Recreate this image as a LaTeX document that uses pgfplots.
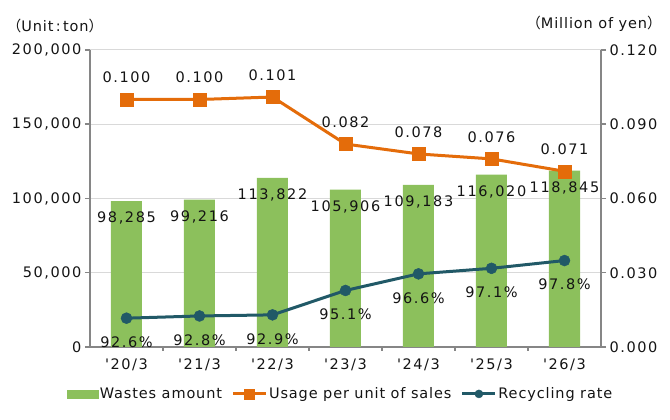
\documentclass[border=0pt]{standalone}
\usepackage{fontspec}
\setmainfont[LetterSpace=6]{DejaVu Sans}
\newfontfamily\numfont[LetterSpace=11]{DejaVu Sans}
\newfontfamily\cjk{Noto Sans CJK JP}
\usepackage{pgfplots}
\pgfplotsset{compat=1.18}

\definecolor{wastegreen}{HTML}{8CC05C}
\definecolor{usageorange}{HTML}{E46C0A}
\definecolor{recteal}{HTML}{215967}
\definecolor{axisgray}{HTML}{868686}
\definecolor{gridgray}{HTML}{D9D9D9}
\definecolor{txt}{HTML}{141414}

\pgfkeys{/pgf/number format/assume math mode=true}

\pgfplotsset{
  base/.style={
    scale only axis, width=511pt, height=297pt,
    at={(0,0)}, anchor=south west,
    xmin=-0.5, xmax=6.5, clip=false,
    tick label style={font=\numfont\fontsize{14.5}{16}\selectfont, text=txt},
    every node near coord/.append style={font=\numfont\fontsize{14.5}{16}\selectfont, text=txt, anchor=center},
  },
  barlegend/.style={legend image code/.code={\fill[wastegreen] (0pt,-4pt) rectangle (31pt,4pt);}},
  linelegend/.style={legend image code/.code={\draw[mark repeat=2,mark phase=2,##1] plot coordinates {(0pt,0pt)(16.5pt,0pt)(33pt,0pt)};}},
}

\begin{document}
\begin{tikzpicture}
\useasboundingbox (-90pt,-73pt) rectangle (580pt,347pt);

% wastes amount (bars, left axis)
\begin{axis}[base,
  ybar, bar width=31pt,
  ymin=0, ymax=200000,
  ytick={0,50000,100000,150000,200000},
  scaled y ticks=false,
  yticklabel style={/pgf/number format/.cd, fixed, 1000 sep={,}},
  axis x line*=bottom, axis y line*=left,
  axis line style={axisgray, line width=2.2pt},
  ymajorgrids, grid style={gridgray, line width=1pt},
  xtick={0,...,6},
  xticklabels={'20/3,'21/3,'22/3,'23/3,'24/3,'25/3,'26/3},
  major x tick style={draw=none},
  minor xtick={0.5,1.5,...,5.5},
  minor x tick style={axisgray, line width=1.5pt},
  minor tick length=4pt,
  y tick style={axisgray, line width=1.5pt},
  major tick length=5pt,
  tick align=outside,
  xtick pos=bottom, ytick pos=left,
  xticklabel style={yshift=-3pt},
  nodes near coords={\pgfmathprintnumber[fixed,1000 sep={,}]{\pgfplotspointmeta}},
  every node near coord/.append style={yshift=-17pt},
]
\addplot[fill=wastegreen, draw=none] coordinates {
  (0,98285) (1,99216) (2,113822) (3,105906) (4,109183) (5,116020) (6,118845)
};
\node[font=\fontsize{14.5}{16}\selectfont, text=txt] at (rel axis cs:0,1)
  [xshift=-35pt, yshift=24pt] {{\cjk （}Unit\,:\,ton{\cjk ）}};
\end{axis}

% usage per unit of sales (right axis)
\begin{axis}[base,
  ymin=0, ymax=0.12,
  ytick={0,0.03,0.06,0.09,0.12},
  scaled y ticks=false,
  yticklabel style={/pgf/number format/.cd, fixed, fixed zerofill, precision=3},
  axis x line=none, axis y line*=right,
  axis line style={axisgray, line width=2.2pt},
  y tick style={axisgray, line width=1.5pt},
  major tick length=5pt, tick align=outside,
  ytick pos=right,
  nodes near coords={\pgfmathprintnumber[fixed,fixed zerofill,precision=3]{\pgfplotspointmeta}},
  every node near coord/.append style={yshift=22pt},
]
\addplot[usageorange, line width=3pt, mark=square*, mark size=6.5pt,
  mark options={line width=0.5pt}] coordinates {
  (0,0.100) (1,0.100) (2,0.101) (3,0.082) (4,0.078) (5,0.076) (6,0.071)
};
\node[font=\fontsize{14.5}{16}\selectfont, text=txt] at (rel axis cs:1,1)
  [xshift=-7pt, yshift=26pt] {{\cjk （}Million of yen{\cjk ）}};
\end{axis}

% recycling rate (hidden axis) and legend
\begin{axis}[base,
  ymin=90, ymax=116.8,
  hide axis,
  nodes near coords={\pgfmathprintnumber[fixed,fixed zerofill,precision=1]{\pgfplotspointmeta}\%},
  every node near coord/.append style={yshift=-24pt},
  legend columns=3,
  legend style={at={(0.49,-0.158)}, anchor=center, draw=none, fill=none,
    font=\fontsize{14.5}{16}\selectfont, text=txt,
    nodes={inner sep=1.5pt},
    /tikz/every even column/.append style={column sep=8pt}},
]
\addlegendimage{barlegend}
\addlegendentry{Wastes amount}
\addlegendimage{usageorange, line width=3pt, mark=square*, mark size=5pt,
  mark options={line width=0.5pt}, linelegend}
\addlegendentry{Usage per unit of sales}
\addlegendimage{recteal, line width=3pt, mark=*, mark size=4pt,
  mark options={line width=0.5pt}, linelegend}
\addlegendentry{Recycling rate}
\addplot[recteal, line width=3pt, mark=*, mark size=5.5pt,
  mark options={line width=0.5pt}, forget plot] coordinates {
  (0,92.6) (1,92.8) (2,92.9) (3,95.1) (4,96.6) (5,97.1) (6,97.8)
};
\end{axis}
\end{tikzpicture}
\end{document}
